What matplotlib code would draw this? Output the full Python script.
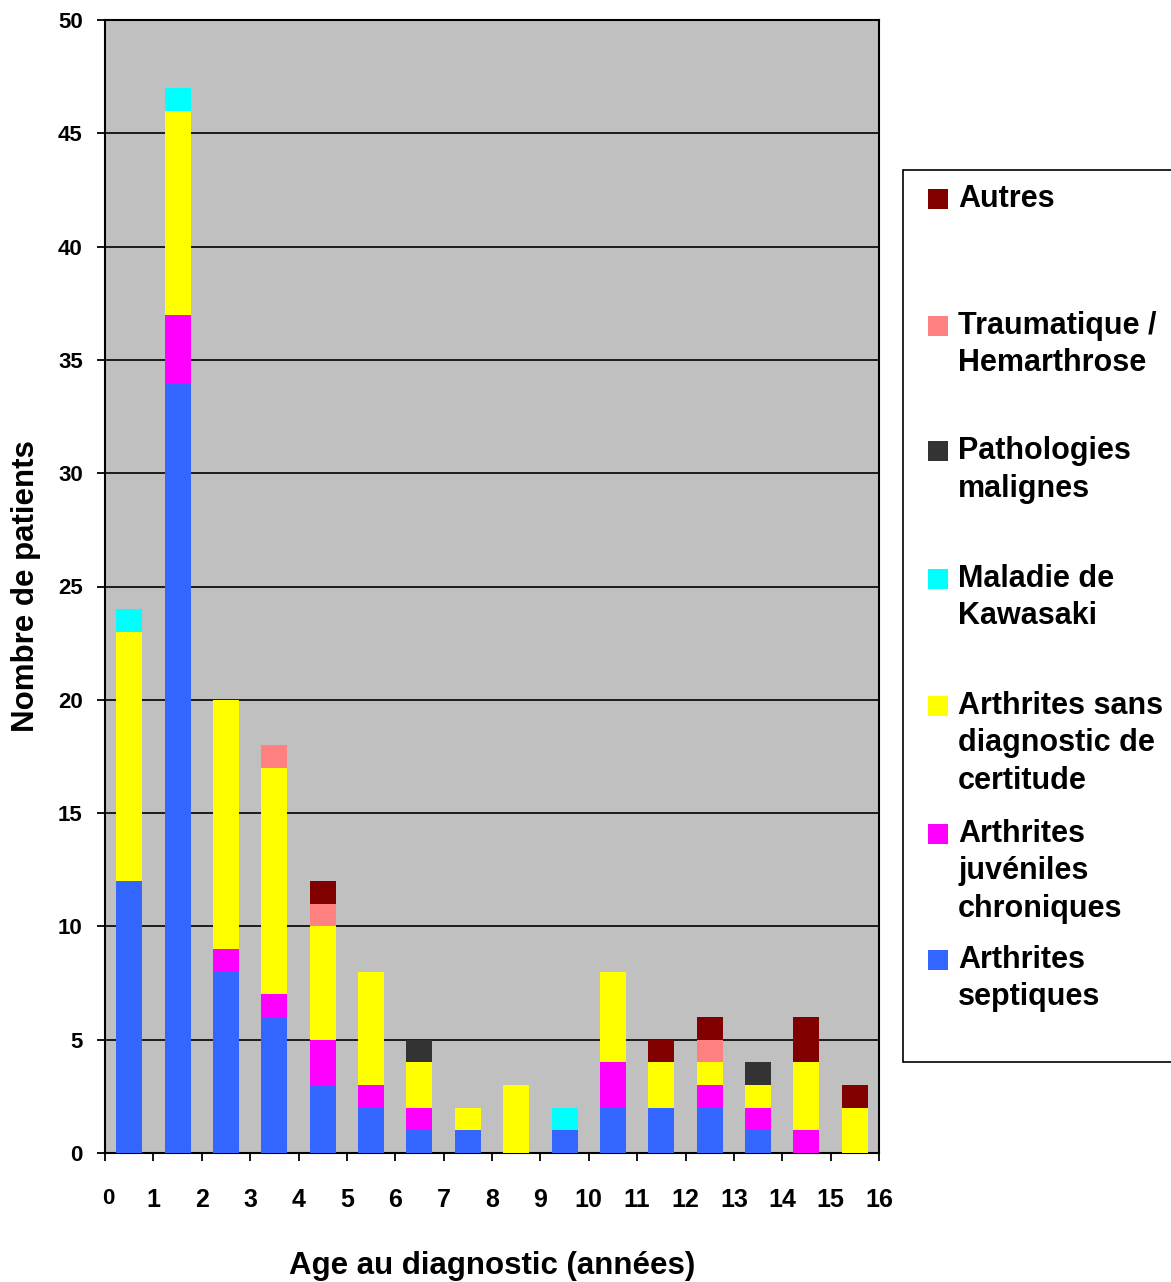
import matplotlib
matplotlib.use("Agg")
import matplotlib.pyplot as plt
import matplotlib.transforms as mtransforms
from matplotlib.patches import Rectangle
import numpy as np

plt.rcParams['font.family'] = ['Liberation Sans', 'DejaVu Sans']
plt.rcParams['font.weight'] = 'bold'

# Age bins (bar k covers ages k..k+1)
ages = list(range(16))
septiques   = [12, 34, 8, 6, 3, 2, 1, 1, 0, 1, 2, 2, 2, 1, 0, 0]
ajc         = [0, 3, 1, 1, 2, 1, 1, 0, 0, 0, 2, 0, 1, 1, 1, 0]
sans_diag   = [11, 9, 11, 10, 5, 5, 2, 1, 3, 0, 4, 2, 1, 1, 3, 2]
kawasaki    = [1, 1, 0, 0, 0, 0, 0, 0, 0, 1, 0, 0, 0, 0, 0, 0]
malignes    = [0, 0, 0, 0, 0, 0, 1, 0, 0, 0, 0, 0, 0, 1, 0, 0]
traumatique = [0, 0, 0, 1, 1, 0, 0, 0, 0, 0, 0, 0, 1, 0, 0, 0]
autres      = [0, 0, 0, 0, 1, 0, 0, 0, 0, 0, 0, 1, 1, 0, 2, 1]

series = [septiques, ajc, sans_diag, kawasaki, malignes, traumatique, autres]
labels = ["Arthrites\nseptiques",
          "Arthrites\njuvéniles\nchroniques",
          "Arthrites sans\ndiagnostic de\ncertitude",
          "Maladie de\nKawasaki",
          "Pathologies\nmalignes",
          "Traumatique /\nHemarthrose",
          "Autres"]
colors = ["#3366FF", "#FF00FF", "#FFFF00", "#00FFFF", "#333333", "#FF8080", "#800000"]

xticks = list(range(17))
yticks = list(range(0, 51, 5))

W, H = 1171, 1282
fig = plt.figure(figsize=(W / 100, H / 100), dpi=100)
ax = fig.add_axes([105 / W, 1 - 1153 / H, (879 - 105) / W, (1153 - 20) / H])
ax.set_facecolor("#C0C0C0")

x = np.array(ages) + 0.5
bottom = np.zeros(len(ages))
for vals, lab, col in zip(series, labels, colors):
    ax.bar(x, vals, width=0.54, bottom=bottom, color=col, label=lab, zorder=3)
    bottom += np.array(vals)

ax.set_xlim(0, 16)
ax.set_ylim(0, 50)
ax.set_xticks(xticks)
ax.set_xticklabels([str(t) for t in xticks], fontsize=18, fontweight='bold')
ax.set_yticks(yticks)
ax.set_yticklabels([str(t) for t in yticks], fontsize=16, fontweight='bold')
ax.tick_params(axis='x', length=6, width=1.3, pad=19, color='black')
ax.tick_params(axis='y', length=6, width=1.3, pad=10, color='black')

# the "0" label is drawn a bit smaller and slightly to the right in the original
lbl0 = ax.get_xticklabels()[0]
lbl0.set_fontsize(16)
lbl0.set_transform(lbl0.get_transform() +
                   mtransforms.ScaledTranslation(3 / 100, 0, fig.dpi_scale_trans))

ax.yaxis.grid(True, color='black', linewidth=1.2, zorder=1)
ax.set_axisbelow(True)
for s in ax.spines.values():
    s.set_linewidth(1.5)
    s.set_color('black')

ax.set_xlabel("Age au diagnostic (années)", fontsize=22.5, fontweight='bold', labelpad=28)
ax.set_ylabel("Nombre de patients", fontsize=22.5, fontweight='bold', labelpad=12)

# Legend box (manually laid out to match the original spacing)
box = Rectangle((903 / W, 1 - 1062 / H), (1180 - 903) / W, (1062 - 170) / H,
                transform=fig.transFigure, facecolor='white', edgecolor='black',
                linewidth=1.2, clip_on=False)
fig.patches.append(box)

entry_y = [960, 834, 706, 579, 451, 326, 199]  # first line centre (px from top)
line_h = 37.5
for lab, col, yy in zip(labels, colors, entry_y):
    fig.patches.append(Rectangle((928 / W, 1 - (yy + 10) / H), 20 / W, 20 / H,
                                 transform=fig.transFigure, facecolor=col,
                                 edgecolor='none'))
    for i, line in enumerate(lab.split("\n")):
        fig.text(958 / W, 1 - (yy + i * line_h) / H, line, fontsize=22,
                 fontweight='bold', va='center', ha='left')

fig.savefig("out.png", dpi=100)
